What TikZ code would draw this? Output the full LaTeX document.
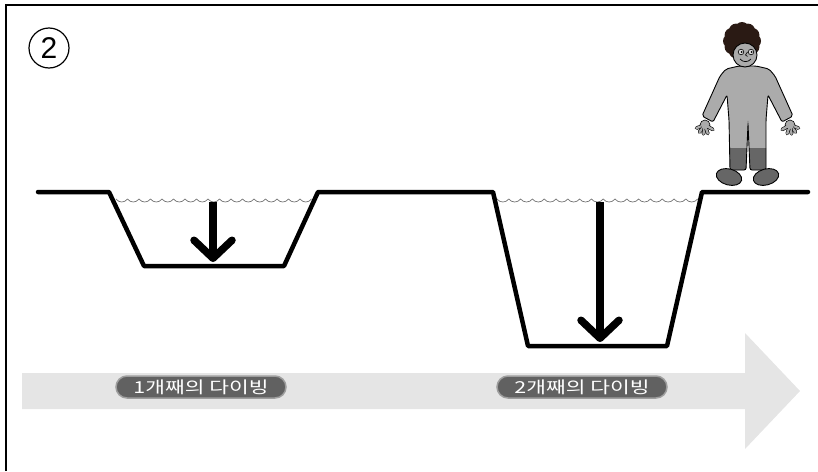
\documentclass[tikz,border=0pt]{standalone}
\usepackage{fontspec}
\setmainfont{Liberation Sans}
\newfontfamily\kfont{Noto Sans CJK KR}
\usetikzlibrary{arrows.meta}

\definecolor{hairbrown}{HTML}{2A1A14}
\tikzset{
  ground/.style={line width=4.5pt, line cap=round, line join=round},
  water/.style={draw=black!55, line width=0.7pt},
  dive/.style={line width=7.5pt, -{Straight Barb[round,length=18pt,width=38pt]}},
  divetag/.style={fill=black!62, draw=black!38, line width=1.5pt, rounded corners=11pt,
    minimum width=170pt, minimum height=22pt, inner sep=0pt, text=white,
    font=\kfont\fontsize{16.5}{16.5}\selectfont},
  skin/.style={fill=black!33, draw=black, line width=0.9pt},
  boot/.style={fill=black!60, draw=black, line width=0.9pt},
  hand/.pic={
    \filldraw[skin, line width=0.6pt] (0,0) circle (5pt);
    \foreach \a in {-160,-128,-100,-72,-30}
      \draw[double=black!33, double distance=2.4pt, line width=0.6pt, line cap=round]
        (\a:2pt) -- (\a:9pt);
    \fill[black!33] (0,0) circle (4pt);
  }
}

% outline of the diver's suit
\newcommand\suitpath{(739,66) -- (726,69) -- (720,76) -- (702,116) -- (713,122) -- (727,95)
  -- (729,120) -- (730,170) -- (746,170) -- (748,124) -- (750,170) -- (766,170)
  -- (766,120) -- (768,95) -- (782,122) -- (793,116) -- (775,76) -- (769,69)
  -- (756,66) -- cycle}

\begin{document}
\begin{tikzpicture}[x=1pt, y=-1pt]
  \useasboundingbox (0,0) rectangle (818,471);
  \draw[line width=2pt] (6,471) -- (6,5) -- (818,5);

  % time line
  \fill[black!10] (22,373) -- (745,373) -- (745,333) -- (800,391) -- (745,449)
    -- (745,409) -- (22,409) -- cycle;
  \node[divetag] (dive1) at (201,387) {\scalebox{1.3}[1]{1개째의 다이빙}};
  \node[divetag] (dive2) at (582,387) {\scalebox{1.3}[1]{2개째의 다이빙}};

  \node[draw, circle, line width=1.2pt, minimum size=40pt, inner sep=0pt,
    font=\fontsize{30}{30}\selectfont] (stage) at (49,48) {2};

  % water surface
  \draw[water] (116,199) foreach \k in {1,...,17} { .. controls +(3,4) and +(-3,4) .. ++(11.5,0) };
  \draw[water] (497,199) foreach \k in {1,...,17} { .. controls +(3,4) and +(-3,4) .. ++(11.8,0) };

  \draw[ground] (38,192) -- (109,192) -- (144,266) -- (284,266) -- (318,192) -- (493,192)
    -- (528,346) -- (667,346) -- (702,192) -- (808,192);

  \draw[dive] (213,202) -- (213,262);
  \draw[dive] (600,202) -- (600,342);

  % diver
  \foreach \a in {0,30,...,330}
    \fill[hairbrown] (742,41) ++(\a:12pt) circle (7pt);
  \fill[hairbrown] (742,41) circle (14pt);
  \fill[black!33, rounded corners=2pt] \suitpath;
  \begin{scope}
    \clip (700,148) rectangle (800,180);
    \fill[black!60, rounded corners=2pt] \suitpath;
  \end{scope}
  \draw[line width=0.9pt, rounded corners=2pt] \suitpath;
  \draw[boot, rotate around={-15:(729,177)}] (729,177) ellipse [x radius=13pt, y radius=8pt];
  \draw[boot, rotate around={15:(766,177)}] (766,177) ellipse [x radius=13pt, y radius=8pt];
  \pic at (705,125) {hand};
  \pic[xscale=-1] at (790,125) {hand};
  \draw[skin] (745,55) circle (12pt);
  \draw[line width=0.6pt, fill=black!15] (741,52) circle (2.8pt) (751,52) circle (2.8pt);
  \fill (741.5,52) circle (1pt) (751.5,52) circle (1pt);
  \draw[line width=0.6pt] (747.5,52) -- (745.5,55) -- (747.5,56.5);
  \draw[line width=0.7pt] (740,59) .. controls (743,62.5) and (748,62.5) .. (751,59);
\end{tikzpicture}
\end{document}
